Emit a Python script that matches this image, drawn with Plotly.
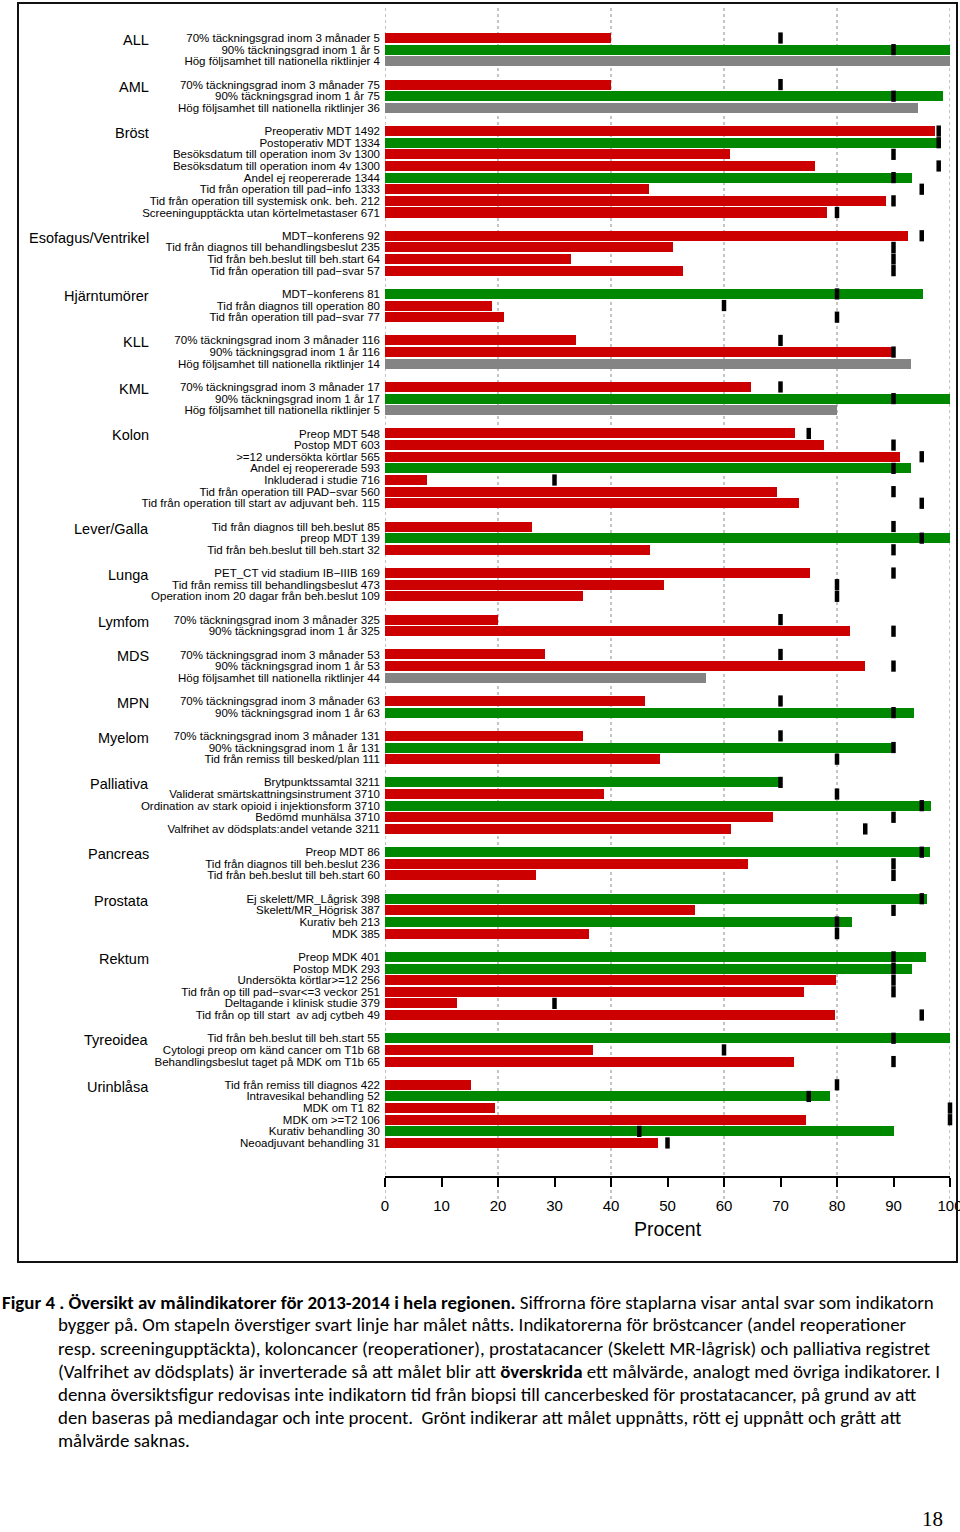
import plotly.graph_objects as go

# ---------------- data ----------------
group_names = ["ALL", "AML", "Bröst", "Esofagus/Ventrikel", "Hjärntumörer", "KLL", "KML",
               "Kolon", "Lever/Galla", "Lunga", "Lymfom", "MDS", "MPN", "Myelom",
               "Palliativa", "Pancreas", "Prostata", "Rektum", "Tyreoidea", "Urinblåsa"]
group_sizes = [3, 3, 8, 4, 3, 3, 3, 7, 3, 3, 2, 3, 2, 3, 5, 3, 4, 6, 3, 6]

t70 = "70% täckningsgrad inom 3 månader"
t90 = "90% täckningsgrad inom 1 år"
thog = "Hög följsamhet till nationella riktlinjer"

indicator_labels = [
    t70, t90, thog,
    t70, t90, thog,
    "Preoperativ MDT", "Postoperativ MDT", "Besöksdatum till operation inom 3v",
    "Besöksdatum till operation inom 4v", "Andel ej reopererade", "Tid från operation till pad−info",
    "Tid från operation till systemisk onk. beh.", "Screeningupptäckta utan körtelmetastaser",
    "MDT−konferens", "Tid från diagnos till behandlingsbeslut", "Tid från beh.beslut till beh.start",
    "Tid från operation till pad−svar",
    "MDT−konferens", "Tid från diagnos till operation", "Tid från operation till pad−svar",
    t70, t90, thog,
    t70, t90, thog,
    "Preop MDT", "Postop MDT", ">=12 undersökta körtlar", "Andel ej reopererade",
    "Inkluderad i studie", "Tid från operation till PAD−svar",
    "Tid från operation till start av adjuvant beh.",
    "Tid från diagnos till beh.beslut", "preop MDT", "Tid från beh.beslut till beh.start",
    "PET_CT vid stadium IB−IIIB", "Tid från remiss till behandlingsbeslut",
    "Operation inom 20 dagar från beh.beslut",
    t70, t90,
    t70, t90, thog,
    t70, t90,
    t70, t90, "Tid från remiss till besked/plan",
    "Brytpunktssamtal", "Validerat smärtskattningsinstrument",
    "Ordination av stark opioid i injektionsform", "Bedömd munhälsa",
    "Valfrihet av dödsplats:andel vetande",
    "Preop MDT", "Tid från diagnos till beh.beslut", "Tid från beh.beslut till beh.start",
    "Ej skelett/MR_Lågrisk", "Skelett/MR_Högrisk", "Kurativ beh", "MDK",
    "Preop MDK", "Postop MDK", "Undersökta körtlar>=12", "Tid från op till pad−svar<=3 veckor",
    "Deltagande i klinisk studie", "Tid från op till start  av adj cytbeh",
    "Tid från beh.beslut till beh.start", "Cytologi preop om känd cancer om T1b",
    "Behandlingsbeslut taget på MDK om T1b",
    "Tid från remiss till diagnos", "Intravesikal behandling", "MDK om T1", "MDK om >=T2",
    "Kurativ behandling", "Neoadjuvant behandling",
]

n_answers = [
    5, 5, 4,
    75, 75, 36,
    1492, 1334, 1300, 1300, 1344, 1333, 212, 671,
    92, 235, 64, 57,
    81, 80, 77,
    116, 116, 14,
    17, 17, 5,
    548, 603, 565, 593, 716, 560, 115,
    85, 139, 32,
    169, 473, 109,
    325, 325,
    53, 53, 44,
    63, 63,
    131, 131, 111,
    3211, 3710, 3710, 3710, 3211,
    86, 236, 60,
    398, 387, 213, 385,
    401, 293, 256, 251, 379, 49,
    55, 68, 65,
    422, 52, 82, 106, 30, 31,
]

percent = [
    40, 100, 100,
    40, 98.7, 94.4,
    97.4, 98.4, 61.1, 76.1, 93.2, 46.8, 88.7, 78.2,
    92.5, 50.9, 33.0, 52.8,
    95.2, 19.0, 21.0,
    33.8, 89.7, 93.1,
    64.7, 100, 80,
    72.6, 77.7, 91.1, 93.1, 7.5, 69.4, 73.2,
    26.1, 100, 46.9,
    75.3, 49.4, 35.1,
    20.0, 82.3,
    28.3, 84.9, 56.8,
    46.0, 93.7,
    35.1, 90.1, 48.6,
    70.2, 38.8, 96.7, 68.7, 61.3,
    96.5, 64.2, 26.7,
    95.9, 54.8, 82.6, 36.1,
    95.8, 93.2, 79.9, 74.1, 12.7, 79.7,
    100, 36.8, 72.3,
    15.2, 78.8, 19.5, 74.5, 90.1, 48.4,
]

target = [
    70, 90, None,
    70, 90, None,
    98, 98, 90, 98, 90, 95, 90, 80,
    95, 90, 90, 90,
    80, 60, 80,
    70, 90, None,
    70, 90, None,
    75, 90, 95, 90, 30, 90, 95,
    90, 95, 90,
    90, 80, 80,
    70, 90,
    70, 90, None,
    70, 90,
    70, 90, 80,
    70, 80, 95, 90, 85,
    95, 90, 90,
    95, 90, 80, 80,
    90, 90, 90, 90, 30, 95,
    90, 60, 90,
    80, 75, 100, 100, 45, 50,
]

x_ticks = [0, 10, 20, 30, 40, 50, 60, 70, 80, 90, 100]
grid_vals = [0, 20, 40, 60, 80, 100]

caption_lines = [
    "<b>Figur 4 . Översikt av målindikatorer för 2013-2014 i hela regionen.</b> Siffrorna före staplarna visar antal svar som indikatorn",
    "bygger på. Om stapeln överstiger svart linje har målet nåtts. Indikatorerna för bröstcancer (andel reoperationer",
    "resp. screeningupptäckta), koloncancer (reoperationer), prostatacancer (Skelett MR-lågrisk) och palliativa registret",
    "(Valfrihet av dödsplats) är inverterade så att målet blir att <b>överskrida</b> ett målvärde, analogt med övriga indikatorer. I",
    "denna översiktsfigur redovisas inte indikatorn tid från biopsi till cancerbesked för prostatacancer, på grund av att",
    "den baseras på mediandagar och inte procent.  Grönt indikerar att målet uppnåtts, rött ej uppnått och grått att",
    "målvärde saknas.",
]
page_number = "18"

# ---------------- layout helpers ----------------
RED, GREEN, GRAY = "#CC0000", "#008800", "#848484"
SANS = "Liberation Sans, Arial, sans-serif"

W, H = 960, 1532
L, R, T, B = 385, 10, 5, 356
PW, PH = W - L - R, H - T - B


def px_x(px):
    return (px - L) / PW


def px_y(py):
    return (H - B - py) / PH


slots, group_slot = [], []
s = 0
for size in group_sizes:
    group_slot.append(s)
    for _ in range(size):
        slots.append(s)
        s += 1
    s += 1
last = slots[-1]

colors = []
for v, t in zip(percent, target):
    if t is None:
        colors.append(GRAY)
    elif v >= t:
        colors.append(GREEN)
    else:
        colors.append(RED)

ticktext = [f"{lab} {n}" for lab, n in zip(indicator_labels, n_answers)]

fig = go.Figure()
fig.add_trace(go.Bar(
    x=percent, y=slots, orientation="h", width=0.86,
    marker=dict(color=colors, line=dict(width=0)),
    hoverinfo="skip", showlegend=False,
))
tx = [t for t in target if t is not None]
ty = [y for y, t in zip(slots, target) if t is not None]
fig.add_trace(go.Scatter(
    x=tx, y=ty, mode="markers", cliponaxis=False,
    marker=dict(symbol="line-ns", size=8, color="black",
                line=dict(width=4.5, color="black")),
    hoverinfo="skip", showlegend=False,
))

shapes = []
for g in grid_vals:
    shapes.append(dict(type="line", xref="x", yref="paper", x0=g, x1=g,
                       y0=px_y(1199), y1=1, layer="below",
                       line=dict(color="#8a8a8a", width=1, dash="dot")))
shapes.append(dict(type="rect", xref="paper", yref="paper",
                   x0=px_x(18), x1=px_x(957), y0=px_y(1262), y1=px_y(3),
                   line=dict(color="#111111", width=2)))

annotations = []
for name, gs in zip(group_names, group_slot):
    annotations.append(dict(text=name, xref="paper", yref="y", x=px_x(151), y=gs,
                            xanchor="right", yanchor="middle", yshift=-2, showarrow=False,
                            font=dict(family=SANS, size=14.5, color="black")))

cap_y = [1302, 1325, 1348, 1371, 1394, 1417, 1440]
for i, line in enumerate(caption_lines):
    annotations.append(dict(text=line, xref="paper", yref="paper",
                            x=px_x(0 if i == 0 else 56), y=px_y(cap_y[i]),
                            xanchor="left", yanchor="middle", showarrow=False,
                            font=dict(family="Carlito, Open Sans, sans-serif", size=18.9, color="black")))
annotations.append(dict(text=page_number, xref="paper", yref="paper",
                        x=px_x(932), y=px_y(1519), xanchor="center", yanchor="middle",
                        showarrow=False,
                        font=dict(family="Liberation Serif, serif", size=21, color="black")))

fig.update_layout(
    width=W, height=H,
    margin=dict(l=L, r=R, t=T, b=B, pad=0, autoexpand=False),
    paper_bgcolor="white", plot_bgcolor="white",
    bargap=0,
    shapes=shapes, annotations=annotations,
    xaxis=dict(range=[0, 100], tickvals=x_ticks, ticktext=[str(v) for v in x_ticks],
               automargin=False,
               showgrid=False, zeroline=False, showline=True, linecolor="black", linewidth=2,
               ticks="outside", ticklen=9, tickwidth=2, tickcolor="black",
               tickfont=dict(family=SANS, size=15, color="black"),
               ticklabelstandoff=6, ticklabeloverflow="allow",
               title=dict(text="Procent", font=dict(family=SANS, size=19.5, color="black"),
                          standoff=9)),
    yaxis=dict(range=[last + 2.84, -2.84], tickvals=slots, ticktext=ticktext,
               automargin=False,
               showgrid=False, zeroline=False, showline=False, ticks="",
               tickfont=dict(family=SANS, size=11.5, color="black"),
               ticklabelstandoff=4),
)

fig.write_html("out.html", config={"displayModeBar": False},
               post_script="document.body.style.margin='0';")
